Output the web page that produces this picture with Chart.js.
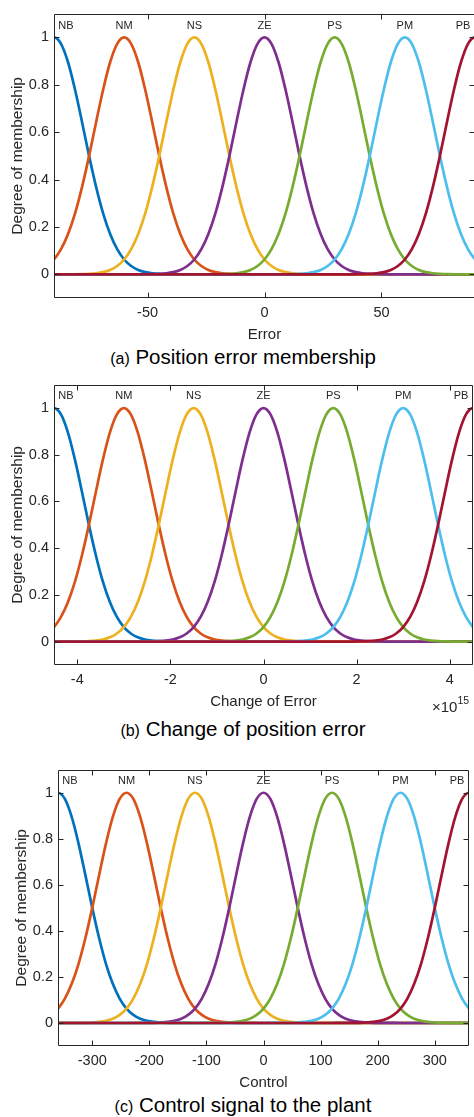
<!DOCTYPE html>
<html>
<head>
<meta charset="utf-8">
<script src="https://cdn.jsdelivr.net/npm/chart.js@4"></script>
<style>
  html, body { margin: 0; padding: 0; background: #fff; overflow: hidden; }
  body { width: 474px; height: 1117px; position: relative; font-family: "Liberation Sans", Arial, sans-serif; color: #000; }
  canvas { position: absolute; left: 0; }
  .caption { position: absolute; left: 0; width: 486px; text-align: center; font-size: 20.5px; line-height: 24px; white-space: nowrap; }
  .caption small { font-size: 16px; }
  .expo { position: absolute; left: 432px; top: 696px; font-size: 15px; color: #262626; white-space: nowrap; }
  .expo sup { font-size: 10.5px; position: relative; top: -2px; }
</style>
</head>
<body>
<canvas id="errChart" width="476" height="345" style="top:0px"></canvas>
<div class="caption" style="top:345px"><small>(a)</small> Position error membership</div>

<canvas id="dErrChart" width="474" height="341" style="top:371px"></canvas>
<div class="expo">&times;10<sup>15</sup></div>
<div class="caption" style="top:717px"><small>(b)</small> Change of position error</div>

<canvas id="ctrlChart" width="474" height="337" style="top:756px"></canvas>
<div class="caption" style="top:1093px"><small>(c)</small> Control signal to the plant</div>

<script>
const mfNames = ['NB', 'NM', 'NS', 'ZE', 'PS', 'PM', 'PB'];
const mfColors = ['#0072BD', '#D95319', '#EDB120', '#7E2F8E', '#77AC30', '#4DBEEE', '#A2142F'];

// one membership curve, offsets in units of the spacing between neighbouring centres
const shapeOffsets = [-2, -1.8, -1.6, -1.5, -1.4, -1.3, -1.2, -1.1, -1, -0.9, -0.8, -0.7, -0.6, -0.5, -0.4, -0.3, -0.2, -0.1,
  0, 0.1, 0.2, 0.3, 0.4, 0.5, 0.6, 0.7, 0.8, 0.9, 1, 1.1, 1.2, 1.3, 1.4, 1.5, 1.6, 1.8, 2];
const shapeValues = [0, 0.0001, 0.0008, 0.002, 0.0044, 0.0093, 0.0185, 0.035, 0.0625, 0.106, 0.17, 0.257, 0.369, 0.5, 0.642, 0.779, 0.895, 0.973,
  1, 0.973, 0.895, 0.779, 0.642, 0.5, 0.369, 0.257, 0.17, 0.106, 0.0625, 0.035, 0.0185, 0.0093, 0.0044, 0.002, 0.0008, 0.0001, 0];

const errorCenters = [-90, -60, -30, 0, 30, 60, 90];
const errorTicks = [-50, 0, 50];

const changeCenters = [-4.5, -3, -1.5, 0, 1.5, 3, 4.5];   // x 1e15
const changeTicks = [-4, -2, 0, 2, 4];

const controlCenters = [-360, -240, -120, 0, 120, 240, 360];
const controlTicks = [-300, -200, -100, 0, 100, 200, 300];

const membershipTicks = [0, 0.2, 0.4, 0.6, 0.8, 1];

Chart.defaults.font.family = '"Liberation Sans", Arial, sans-serif';
Chart.defaults.color = '#262626';

function curvePoints(center, spacing, min, max) {
  const pts = [];
  const first = center + shapeOffsets[0] * spacing;
  const last = center + shapeOffsets[shapeOffsets.length - 1] * spacing;
  if (first > min) pts.push({ x: min, y: 0 });
  shapeOffsets.forEach((d, i) => pts.push({ x: center + d * spacing, y: shapeValues[i] }));
  if (last < max) pts.push({ x: max, y: 0 });
  return pts;
}

// box, inward tick marks on all four sides and the set names above the peaks
const framePlugin = {
  id: 'frame',
  afterDatasetsDraw(chart, args, opts) {
    const { ctx, chartArea: a, scales: { x, y } } = chart;
    const L = Math.round(a.left) + 0.5, R = Math.round(a.right) - 0.5;
    const T = Math.round(a.top) + 0.5, B = Math.round(a.bottom) - 0.5;
    ctx.save();
    ctx.strokeStyle = '#262626';
    ctx.lineWidth = 1;
    ctx.beginPath();
    ctx.rect(L, T, R - L, B - T);
    x.ticks.forEach(t => {
      const px = Math.round(x.getPixelForValue(t.value)) + 0.5;
      ctx.moveTo(px, B); ctx.lineTo(px, B - 5);
      ctx.moveTo(px, T); ctx.lineTo(px, T + 5);
    });
    y.ticks.forEach(t => {
      const py = Math.round(y.getPixelForValue(t.value)) + 0.5;
      ctx.moveTo(L, py); ctx.lineTo(L + 5, py);
      ctx.moveTo(R, py); ctx.lineTo(R - 5, py);
    });
    ctx.stroke();

    ctx.font = '11px "Liberation Sans", Arial, sans-serif';
    ctx.fillStyle = '#262626';
    ctx.textAlign = 'center';
    ctx.textBaseline = 'middle';
    const ly = y.getPixelForValue(1.05);
    opts.centers.forEach((c, i) => {
      let px = x.getPixelForValue(c);
      px = Math.min(Math.max(px, a.left + 12), a.right - 12);
      ctx.fillText(mfNames[i], px, ly);
    });
    ctx.restore();
  }
};

function makeChart(id, centers, spacing, min, max, ticks, xTitle, yWidth, rightPad) {
  const datasets = centers.map((c, i) => ({
    label: mfNames[i],
    data: curvePoints(c, spacing, min, max),
    borderColor: mfColors[i],
    borderWidth: 2.7,
    pointRadius: 0,
    cubicInterpolationMode: 'monotone',
    clip: 0,
    order: centers.length - 1 - i
  }));
  return new Chart(document.getElementById(id), {
    type: 'line',
    data: { datasets },
    plugins: [framePlugin],
    options: {
      responsive: false,
      animation: false,
      devicePixelRatio: 1,
      layout: { padding: { top: 6, right: rightPad, bottom: 0, left: 0 } },
      plugins: {
        legend: { display: false },
        tooltip: { enabled: false },
        frame: { centers }
      },
      scales: {
        x: {
          type: 'linear',
          min, max,
          grid: { display: false, drawTicks: false },
          border: { display: false },
          afterBuildTicks: s => { s.ticks = ticks.map(v => ({ value: v })); },
          afterFit: s => { s.height = 47; },
          ticks: { padding: 6.5, font: { size: 14.5 }, color: '#262626', callback: v => String(v) },
          title: { display: true, text: xTitle, font: { size: 15 }, color: '#262626', padding: { top: 0, bottom: 1.6 } }
        },
        y: {
          min: -0.1, max: 1.1,
          grid: { display: false, drawTicks: false },
          border: { display: false },
          afterBuildTicks: s => { s.ticks = membershipTicks.map(v => ({ value: v })); },
          afterFit: s => { s.width = yWidth; },
          ticks: { padding: 5, font: { size: 14.5 }, color: '#262626', callback: v => String(+v.toFixed(1)) },
          title: { display: true, text: 'Degree of membership', font: { size: 15.5 }, color: '#262626', padding: { top: yWidth - 46, bottom: 0 } }
        }
      }
    }
  });
}

makeChart('errChart', errorCenters, 30, -90, 90, errorTicks, 'Error', 54, 1);
makeChart('dErrChart', changeCenters, 1.5, -4.5, 4.5, changeTicks, 'Change of Error', 54, 1);
makeChart('ctrlChart', controlCenters, 120, -360, 360, controlTicks, 'Control', 58, 5);
</script>
</body>
</html>
